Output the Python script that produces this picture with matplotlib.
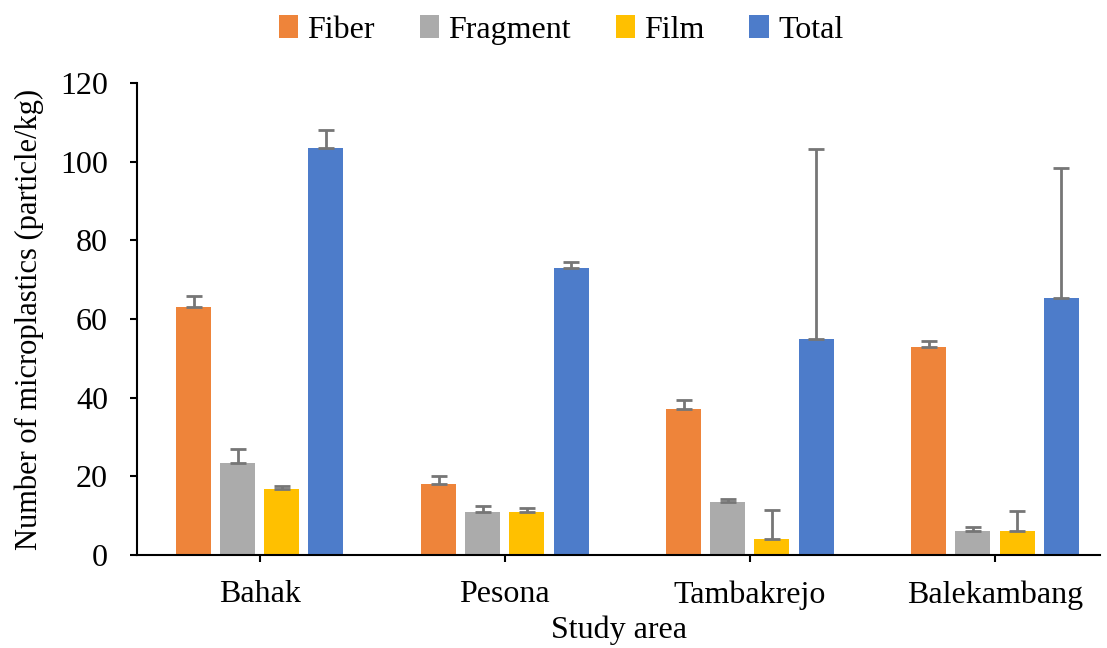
import matplotlib
matplotlib.use("Agg")
import matplotlib.pyplot as plt
import numpy as np

categories = ["Bahak", "Pesona", "Tambakrejo", "Balekambang"]
series = ["Fiber", "Fragment", "Film", "Total"]
fiber = [63.0, 18.0, 37.0, 53.0]
fragment = [23.3, 11.0, 13.5, 6.0]
film = [16.7, 11.0, 4.0, 6.0]
total = [103.5, 73.0, 55.0, 65.3]
fiber_err = [2.8, 2.0, 2.5, 1.5]
fragment_err = [3.7, 1.5, 0.8, 1.0]
film_err = [0.8, 1.0, 7.5, 5.2]
total_err = [4.6, 1.4, 48.3, 33.0]
colors = ["#EE843A", "#ABABAB", "#FFC000", "#4D7CCA"]

plt.rcParams['font.family'] = ['Liberation Serif', 'DejaVu Serif']

fig = plt.figure(figsize=(11.07, 6.48), dpi=100)
ax = fig.add_axes([0.124, 0.1435, 0.87, 0.7285])

x = np.arange(len(categories))
step = 0.18
width = 0.143
vals = [fiber, fragment, film, total]
errs = [fiber_err, fragment_err, film_err, total_err]
for i, (s, v, e, c) in enumerate(zip(series, vals, errs, colors)):
    pos = x + (i - 1.5) * step
    ax.bar(pos, v, width, color=c, label=s, zorder=2)
    ax.errorbar(pos, v, yerr=[np.zeros(len(e)), e], fmt='none', ecolor='#767676',
                elinewidth=2, capsize=6, capthick=2, zorder=3)

ax.set_xlim(-0.5, 3.43)
ax.set_ylim(0, 120)
ax.set_yticks(np.arange(0, 121, 20))
ax.set_xticks(x)
ax.set_xticklabels(categories)
ax.tick_params(axis='both', width=1.5, length=5, color='black')
ax.tick_params(axis='y', labelsize=23, pad=16)
ax.tick_params(axis='x', labelsize=23, pad=13)
for sp in ['top', 'right']:
    ax.spines[sp].set_visible(False)
for sp in ['left', 'bottom']:
    ax.spines[sp].set_linewidth(1.5)
ax.set_ylabel("Number of microplastics (particle/kg)", fontsize=22, labelpad=12)
ax.set_xlabel("Study area", fontsize=23, labelpad=4)

ax.legend(loc='upper center', bbox_to_anchor=(0.44, 1.205), ncol=4, frameon=False,
          fontsize=23, handlelength=0.6, handleheight=0.75, handletextpad=0.3,
          columnspacing=1.4)

fig.savefig("out.png", dpi=100)
